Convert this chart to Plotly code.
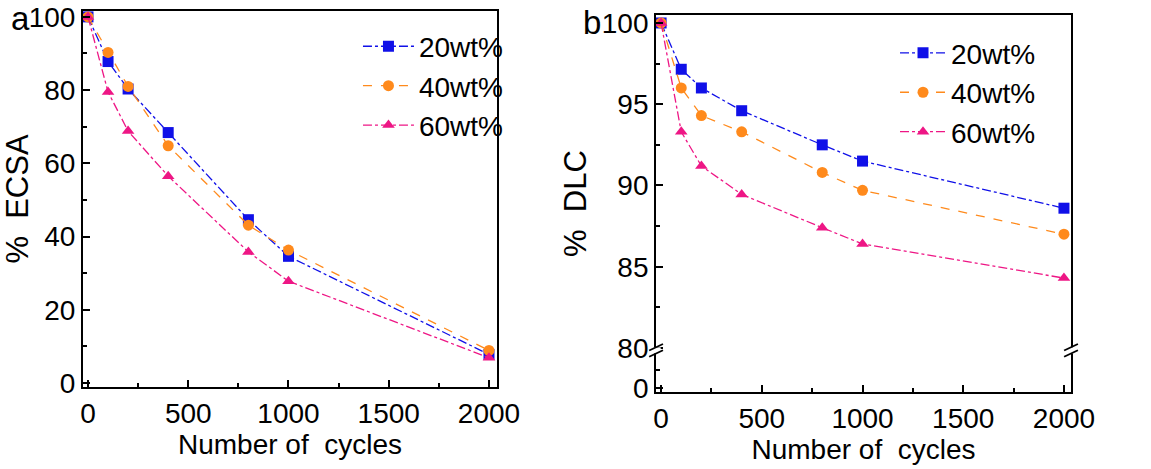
import plotly.graph_objects as go

cycles = [0, 100, 200, 400, 800, 1000, 2000]
series_names = ["20wt%", "40wt%", "60wt%"]

# panel a: % ECSA
ecsa_20 = [100, 87.8, 80.3, 68.4, 44.6, 34.6, 7.8]
ecsa_40 = [100, 90.3, 81.0, 64.8, 43.1, 36.3, 8.9]
ecsa_60 = [100, 79.5, 68.8, 56.5, 35.8, 27.8, 6.9]

# panel b: % DLC
dlc_20 = [100, 97.15, 96.0, 94.6, 92.5, 91.5, 88.6]
dlc_40 = [100, 96.0, 94.3, 93.3, 90.8, 89.7, 87.0]
dlc_60 = [100, 93.3, 91.2, 89.45, 87.4, 86.4, 84.3]

colors = ["#1010E8", "#FF8A1C", "#EE1685"]
symbols = ["square", "circle", "triangle-up"]
dashes = ["dashdot", "dash", "dashdot"]

FONT = "Liberation Sans, Arial, sans-serif"

fig = go.Figure()

for name, ys, c, s, d in zip(series_names, [ecsa_20, ecsa_40, ecsa_60], colors, symbols, dashes):
    fig.add_trace(go.Scatter(
        x=cycles, y=ys, name=name, mode="lines+markers",
        line=dict(color=c, width=1.3, dash=d),
        marker=dict(color=c, symbol=s, size=11),
        xaxis="x", yaxis="y", legend="legend",
    ))

for name, ys, c, s, d in zip(series_names, [dlc_20, dlc_40, dlc_60], colors, symbols, dashes):
    fig.add_trace(go.Scatter(
        x=cycles, y=ys, name=name, mode="lines+markers",
        line=dict(color=c, width=1.3, dash=d),
        marker=dict(color=c, symbol=s, size=11),
        xaxis="x2", yaxis="y2", legend="legend2",
    ))

axis_common = dict(
    showline=True, linecolor="black", linewidth=2, mirror=True,
    ticks="inside", ticklen=7, tickwidth=1.6, tickcolor="black",
    showgrid=False, zeroline=False, automargin=False,
    tickfont=dict(family=FONT, size=28, color="black"),
)
xminor = dict(tickmode="array", tickvals=[250, 750, 1250, 1750], ticks="inside", ticklen=4, tickcolor="black")

xtitle = dict(text="Number of\u00a0\u00a0cycles", font=dict(family=FONT, size=28, color="black"), standoff=4)

fig.update_layout(
    width=1151, height=469,
    paper_bgcolor="white", plot_bgcolor="white",
    margin=dict(l=0, r=0, t=0, b=0, autoexpand=False),
    xaxis=dict(axis_common, domain=[0.0721, 0.4318], range=[-25, 2040], anchor="y",
               tickvals=[0, 500, 1000, 1500, 2000], minor=xminor, title=xtitle),
    yaxis=dict(axis_common, domain=[0.1748, 0.9765], range=[-1.1, 101.6], anchor="x",
               tickvals=[0, 20, 40, 60, 80, 100],
               minor=dict(tickmode="array", tickvals=[10, 30, 50, 70, 90], ticks="inside", ticklen=4, tickcolor="black"),
               title=dict(text="%\u00a0\u00a0ECSA", font=dict(family=FONT, size=31, color="black"), standoff=6)),
    xaxis2=dict(axis_common, domain=[0.570, 0.9305], range=[-25, 2035], anchor="y2",
                tickvals=[0, 500, 1000, 1500, 2000], minor=xminor, title=xtitle),
    yaxis2=dict(axis_common, domain=[0.1642, 0.968], range=[77.29, 100.49], anchor="x2",
                tickvals=[77.54, 80, 85, 90, 95, 100], ticktext=["0", "80", "85", "90", "95", "100"],
                minor=dict(tickmode="array", tickvals=[78.65, 82.5, 87.5, 92.5, 97.5], ticks="inside", ticklen=4, tickcolor="black"),
                title=dict(text="%\u00a0\u00a0DLC", font=dict(family=FONT, size=31, color="black"), standoff=6)),
    legend=dict(x=0.311, y=0.954, xanchor="left", yanchor="top", bgcolor="rgba(0,0,0,0)", itemwidth=51,
                font=dict(family=FONT, size=28, color="black"), tracegroupgap=0),
    legend2=dict(x=0.7776, y=0.94, xanchor="left", yanchor="top", bgcolor="rgba(0,0,0,0)", itemwidth=46,
                 font=dict(family=FONT, size=28, color="black"), tracegroupgap=0),
    showlegend=True,
)

# panel letters
fig.add_annotation(text="a", x=0.008, y=1.005, xref="paper", yref="paper", xanchor="left", yanchor="top",
                   showarrow=False, font=dict(family=FONT, size=33, color="black"))
fig.add_annotation(text="b", x=0.505, y=0.995, xref="paper", yref="paper", xanchor="left", yanchor="top",
                   showarrow=False, font=dict(family=FONT, size=33, color="black"))

# axis break marks on panel b
for xp in [0.570, 0.9305]:
    fig.add_shape(type="rect", xref="paper", yref="y2", x0=xp - 0.004, x1=xp + 0.004, y0=79.66, y1=80.04,
                  fillcolor="white", line=dict(width=0))
    for yc in [79.66, 80.04]:
        fig.add_shape(type="line", xref="paper", yref="y2", x0=xp - 0.006, x1=xp + 0.006,
                      y0=yc - 0.2, y1=yc + 0.2, line=dict(color="black", width=1.8))

fig.write_html("out.html", config={"displayModeBar": False},
               post_script="document.body.style.margin='0';")
